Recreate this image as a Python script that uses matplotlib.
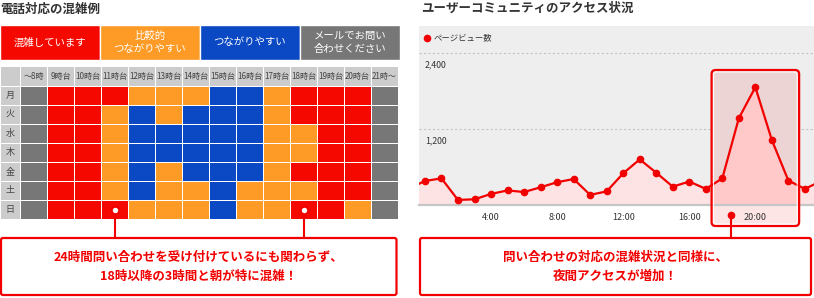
import numpy as np
import matplotlib
matplotlib.use('Agg')
import matplotlib.pyplot as plt
from matplotlib.colors import ListedColormap
from matplotlib.patches import Rectangle, FancyBboxPatch
import matplotlib.transforms as mtransforms

plt.rcParams['font.family'] = ['Noto Sans CJK JP', 'DejaVu Sans']

# phone congestion table
days = ['月', '火', '水', '木', '金', '土', '日']
hour_labels = ['～8時', '9時台', '10時台', '11時台', '12時台', '13時台', '14時台',
               '15時台', '16時台', '17時台', '18時台', '19時台', '20時台', '21時～']
# R: busy, O: fairly easy, B: easy, G: mail only
busy = [
    'GRRROOOBBORRRG',
    'GRROBOBBBORRRG',
    'GRROBBBBBOORRG',
    'GRROBBBBBOORRG',
    'GRROBOBBBORRRG',
    'GRROBOOBOOORRG',
    'GRRROOOBOORROG',
]
legend_keys = ['R', 'O', 'B', 'G']
legend_labels = ['混雑しています', '比較的\nつながりやすい', 'つながりやすい',
                 'メールでお問い\n合わせください']
pin_cols = [3, 10]  # 11時台 and 18時台 on 日

# page views per hour
hours = np.arange(24)
pageviews = [380, 420, 80, 90, 175, 230, 205, 280, 360, 410, 160, 215,
             500, 720, 510, 290, 370, 255, 420, 1370, 1860, 1025, 385, 255]
tick_hours = [4, 8, 12, 16, 20]
tick_labels = ['4:00', '8:00', '12:00', '16:00', '20:00']
peak_hour = 20

left_note = ['24時間問い合わせを受け付けているにも関わらず、', '18時以降の3時間と朝が特に混雑！']
right_note = ['問い合わせの対応の混雑状況と同様に、', '夜間アクセスが増加！']

RED = '#f20000'
colors = {'H': '#cccccc', 'R': '#f40800', 'O': '#fd9b26', 'B': '#0b48c4', 'G': '#777777'}
order = ['H', 'R', 'O', 'B', 'G']

W, H = 814, 298
fig = plt.figure(figsize=(W / 100, H / 100), dpi=100)


def px_axes(x0, y0, x1, y1):
    return fig.add_axes([x0 / W, 1 - y1 / H, (x1 - x0) / W, (y1 - y0) / H])


# ---- heat table ----
ax_h = px_axes(0, 66, 398, 219)
M = np.zeros((8, 15))
for i, row in enumerate(busy):
    for j, c in enumerate(row):
        M[i + 1, j + 1] = order.index(c)
xe = np.r_[-0.5 - 20 / 27, np.arange(15) - 0.5]
ye = np.r_[-0.5 - 20 / 19, np.arange(8) - 0.5]
ax_h.pcolormesh(xe, ye, M, cmap=ListedColormap([colors[k] for k in order]),
                vmin=-0.5, vmax=4.5, edgecolors='white', linewidth=0.7)
ax_h.set_xlim(xe[0], xe[-1])
ax_h.set_ylim(ye[-1], ye[0])
ax_h.axis('off')
for j, lab in enumerate(hour_labels):
    ax_h.text(j, -0.5 - 10 / 19, lab, ha='center', va='center', fontsize=5.8, color='#444444')
for i, d in enumerate(days):
    ax_h.text(-0.5 - 10 / 27, i, d, ha='center', va='center', fontsize=6.5, color='#444444')
for c in pin_cols:
    ax_h.plot([c, c], [6.1, 7.5], color=RED, lw=1.5, clip_on=False, zorder=5)
    ax_h.plot(c, 6.05, 'o', mfc='white', mec=RED, ms=5.5, mew=1.6, clip_on=False, zorder=6)

# ---- page view chart ----
ax = px_axes(419, 26, 814, 205)
ax.set_facecolor('#eeeeee')
ax.set_xlim(-0.36, 23.55)
ax.set_ylim(0, 2826)
for s in ax.spines.values():
    s.set_visible(False)
ax.set_xticks(tick_hours)
ax.set_xticklabels(tick_labels)
ax.tick_params(axis='x', length=0, pad=6, labelsize=6.5, labelcolor='#333333')
ax.set_yticks([1200, 2400])
ax.tick_params(axis='y', length=0, labelleft=False)
ax.grid(axis='y', color='#c4c4c4', ls=(0, (2, 2)), lw=0.8)
ax.set_axisbelow(True)
for v in [1200, 2400]:
    ax.annotate(f'{v:,}', xy=(0.015, v), xycoords=('axes fraction', 'data'),
                xytext=(0, -5), textcoords='offset points', va='top', ha='left',
                fontsize=6.3, color='#333333')

xx = np.r_[-1, hours, 24]
yy = np.r_[pageviews[-1], pageviews, pageviews[0]]
hx0, hx1 = peak_hour - 2.65, peak_hour + 2.65
blend = mtransforms.blended_transform_factory(ax.transData, ax.transAxes)
box_top = 135 / 179  # axes fraction of the highlight box top
ax.add_patch(Rectangle((hx0, 0), hx1 - hx0, box_top, transform=blend,
                       facecolor='#ecd4d4', lw=0, zorder=1))
ax.fill_between(xx, yy, color='#fde3e3', zorder=1.5, lw=0)
inner = ax.fill_between(xx, yy, color='#ffc9c9', zorder=1.6, lw=0)
inner.set_clip_path(Rectangle((hx0, 0), hx1 - hx0, 3000, transform=ax.transData))
ax.axhline(0, color='#c6c6c6', lw=1.6, zorder=2, clip_on=False)
ax.plot(xx, yy, '-', color=RED, lw=1.6, zorder=3)
ax.plot(hours, pageviews, 'o', color=RED, ms=4.5, zorder=4)
ax.add_patch(Rectangle((hx0, -21 / 179), hx1 - hx0, 21 / 179, transform=blend,
                       facecolor='#fde5e5', lw=0, clip_on=False, zorder=0.5))

# ---- overlay in pixel coords ----
ov = fig.add_axes([0, 0, 1, 1])
ov.set_xlim(0, W)
ov.set_ylim(H, 0)
ov.axis('off')
ov.patch.set_visible(False)

ov.text(0, 9, '電話対応の混雑例', fontsize=9, weight='bold', va='center', color='#333333')
ov.text(421, 8, 'ユーザーコミュニティのアクセス状況', fontsize=9, weight='bold',
        va='center', color='#333333')

for k, (key, lab) in enumerate(zip(legend_keys, legend_labels)):
    ov.add_patch(Rectangle((k * 100, 25), 100, 35, facecolor=colors[key],
                           edgecolor='white', lw=1))
    ov.text(k * 100 + 50, 42.5, lab, ha='center', va='center', fontsize=7.5,
            color='white', linespacing=1.3)

# chart legend
ov.plot(427, 38, 'o', color=RED, ms=4.5)
ov.text(434, 38, 'ページビュー数', fontsize=6, va='center', color='#333333')

# highlight box around the evening peak
fig.canvas.draw()
px0 = ax.transData.transform((hx0, 0))[0]
px1 = ax.transData.transform((hx1, 0))[0]
ov.add_patch(FancyBboxPatch((px0, 70), px1 - px0, 156,
                            boxstyle='round,pad=0,rounding_size=4',
                            facecolor='none', edgecolor=RED, lw=1.6, zorder=5))
ov.add_patch(FancyBboxPatch((px0 + 2, 72), px1 - px0 - 4, 152,
                            boxstyle='round,pad=0,rounding_size=3',
                            facecolor='none', edgecolor='white', lw=0.7, zorder=5))
pin_x = ax.transData.transform((18.5, 0))[0]
ov.plot([pin_x, pin_x], [215, 238], color=RED, lw=1.5, zorder=5)
ov.plot(pin_x, 215, 'o', color=RED, ms=4.5, zorder=6)

# note boxes
for (x0, x1), lines in [((1, 396.5), left_note), ((420, 811), right_note)]:
    ov.add_patch(FancyBboxPatch((x0, 238), x1 - x0, 57,
                                boxstyle='round,pad=0,rounding_size=2',
                                facecolor='white', edgecolor=RED, lw=1.6, zorder=4))
    for n, line in enumerate(lines):
        ov.text((x0 + x1) / 2, 257 + n * 19, line, ha='center', va='center',
                fontsize=9, weight='bold', color=RED, zorder=6)

fig.savefig('out.png', dpi=100, facecolor='white')
